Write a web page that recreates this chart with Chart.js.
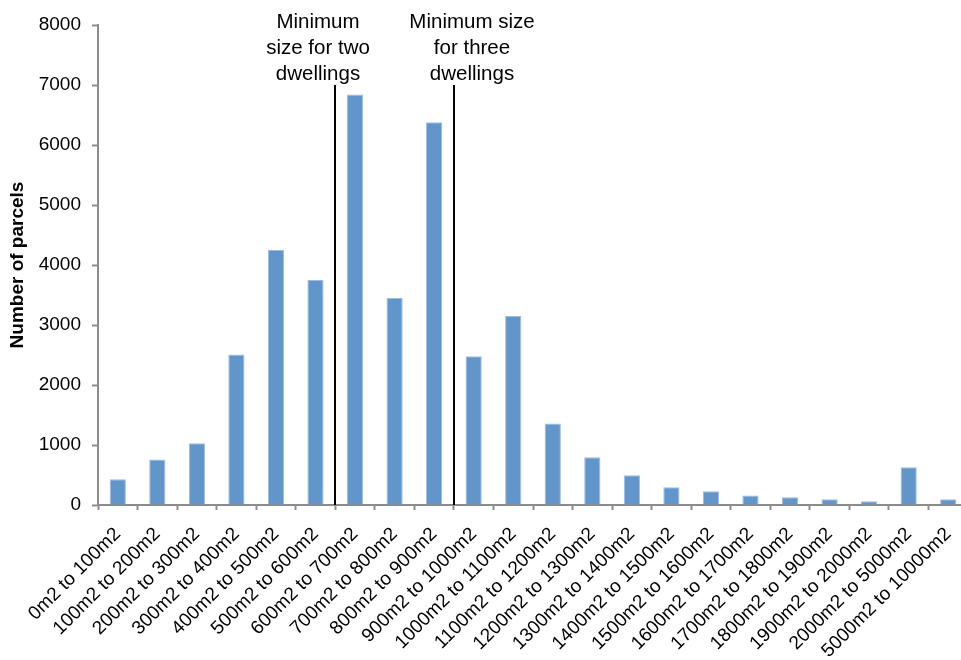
<!DOCTYPE html>
<html>
<head>
<meta charset="utf-8">
<script src="https://cdn.jsdelivr.net/npm/chart.js@4/dist/chart.umd.min.js"></script>
<style>
  html, body { margin: 0; padding: 0; background: #fff; overflow: hidden; }
  #wrap { width: 961px; height: 660px; position: relative; overflow: hidden; }
  #c { position: absolute; left: 0; top: 0; }
</style>
</head>
<body>
<div id="wrap"><canvas id="c" width="968" height="660"></canvas></div>
<script>
// Parcel size bands
const categories = [
  '0m2 to 100m2', '100m2 to 200m2', '200m2 to 300m2', '300m2 to 400m2',
  '400m2 to 500m2', '500m2 to 600m2', '600m2 to 700m2', '700m2 to 800m2',
  '800m2 to 900m2', '900m2 to 1000m2', '1000m2 to 1100m2', '1100m2 to 1200m2',
  '1200m2 to 1300m2', '1300m2 to 1400m2', '1400m2 to 1500m2', '1500m2 to 1600m2',
  '1600m2 to 1700m2', '1700m2 to 1800m2', '1800m2 to 1900m2', '1900m2 to 2000m2',
  '2000m2 to 5000m2', '5000m2 to 10000m2'
];

// Number of parcels in each band
const parcels = [
  430, 760, 1030, 2510, 4250, 3750, 6840, 3450, 6380, 2480, 3150,
  1360, 795, 495, 295, 228, 160, 128, 95, 62, 628, 95
];

// Y axis ticks
const yTicks = [0, 1000, 2000, 3000, 4000, 5000, 6000, 7000, 8000];

// Minimum-size thresholds: placed between two size bands
const thresholdAfter = ['500m2 to 600m2', '800m2 to 900m2'];
const thresholdTop = [7000, 7000];
const thresholdText = [
  ['Minimum', 'size for two', 'dwellings'],
  ['Minimum size', 'for three', 'dwellings']
];

const FONT = '"Liberation Sans", Arial, Helvetica, sans-serif';

const thresholdPlugin = {
  id: 'thresholds',
  afterDatasetsDraw(chart) {
    const ctx = chart.ctx;
    const xs = chart.scales.x, ys = chart.scales.y;
    const textShift = [-17, 18];
    thresholdAfter.forEach((cat, i) => {
      const idx = categories.indexOf(cat);
      const x = Math.round(xs.getPixelForValue(idx + 0.5));
      const y0 = ys.getPixelForValue(0);
      const y1 = ys.getPixelForValue(thresholdTop[i]);
      ctx.save();
      ctx.strokeStyle = '#000';
      ctx.lineWidth = 2;
      ctx.beginPath();
      ctx.moveTo(x, y0);
      ctx.lineTo(x, y1);
      ctx.stroke();
      ctx.fillStyle = '#000';
      ctx.font = '20.5px ' + FONT;
      ctx.textAlign = 'center';
      ctx.textBaseline = 'alphabetic';
      thresholdText[i].forEach((t, j) => {
        ctx.fillText(t, x + textShift[i], 28 + j * 26);
      });
      ctx.restore();
    });
  }
};

new Chart(document.getElementById('c'), {
  type: 'bar',
  data: {
    labels: categories,
    datasets: [{
      data: parcels,
      backgroundColor: '#6295CA',
      borderColor: '#9DBCE0',
      borderWidth: { left: 1, right: 1, top: 1, bottom: 0 },
      categoryPercentage: 1,
      barPercentage: 0.41
    }]
  },
  options: {
    responsive: false,
    animation: false,
    devicePixelRatio: 1,
    layout: { padding: { top: 25, right: 0, left: 0, bottom: 0 } },
    plugins: {
      legend: { display: false },
      tooltip: { enabled: false }
    },
    scales: {
      x: {
        grid: {
          display: true,
          drawOnChartArea: false,
          drawTicks: true,
          tickLength: 5,
          tickColor: '#8c8c8c',
          tickWidth: 2,
          offset: true
        },
        border: { color: '#8c8c8c', width: 2 },
        ticks: {
          autoSkip: false,
          maxRotation: 45,
          minRotation: 45,
          padding: 13,
          color: '#000',
          font: { family: FONT, size: 19 }
        },
        afterFit(scale) {
          scale.height = 155;
          scale.paddingLeft = 0;
          scale.paddingRight = 0;
        }
      },
      y: {
        min: 0,
        max: 8000,
        afterBuildTicks(scale) { scale.ticks = yTicks.map(v => ({ value: v })); },
        grid: {
          display: true,
          drawOnChartArea: false,
          drawTicks: true,
          tickLength: 6,
          tickColor: '#8c8c8c',
          tickWidth: 2
        },
        border: { color: '#8c8c8c', width: 2 },
        ticks: {
          padding: 11,
          color: '#000',
          font: { family: FONT, size: 19 },
          callback: v => String(v)
        },
        title: {
          display: true,
          text: 'Number of parcels',
          color: '#000',
          font: { family: FONT, size: 19, weight: 'bold' },
          padding: { top: 6, bottom: 0 }
        },
        afterFit(scale) { scale.width = 98; }
      }
    }
  },
  plugins: [thresholdPlugin]
});
</script>
</body>
</html>
